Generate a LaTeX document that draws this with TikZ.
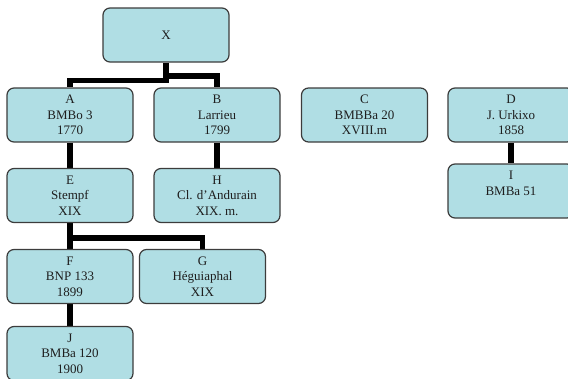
\documentclass[tikz,border=0pt]{standalone}
\usepackage{fontspec}
\setmainfont{Liberation Serif}
\usetikzlibrary{backgrounds}
\definecolor{boxfill}{RGB}{176,222,228}
\definecolor{boxline}{RGB}{60,60,60}
\definecolor{txt}{RGB}{30,30,30}
\begin{document}
\begin{tikzpicture}[x=1pt,y=-1pt,
  box/.style={draw=boxline,fill=boxfill,line width=1.2pt,rounded corners=7pt,
    minimum width=126pt,minimum height=54pt,inner sep=0pt,text=txt,
    font=\fontsize{13}{15.5}\selectfont,align=center,anchor=center},
  conn/.style={line width=5.5pt,draw=black}]
\useasboundingbox (0,0) rectangle (568,378);
\coordinate (jl) at (0,80.5);
\coordinate (jr) at (0,76);
\coordinate (je) at (0,238);
\node[box] (X) at (166,35) {X};
\node[box] (A) at (70,115) {A\\BMBo 3\\1770};
\node[box] (B) at (217,115) {B\\Larrieu\\1799};
\node[box] (C) at (364.5,115) {C\\BMBBa 20\\XVIII.m};
\node[box] (D) at (511,115) {D\\J. Urkixo\\1858};
\node[box] (E) at (70,195.5) {E\\Stempf\\XIX};
\node[box] (H) at (217,195.5) {H\\Cl. d’Andurain\\XIX. m.};
\node[box] (I) at (511,191) {I\\BMBa 51\\\mbox{}};
\node[box] (F) at (70,276.5) {F\\BNP 133\\1899};
\node[box] (G) at (202.5,276.5) {G\\Héguiaphal\\XIX};
\node[box] (J) at (70,353.5) {J\\BMBa 120\\1900};
\begin{scope}[on background layer]
\draw[conn] (X.south) -- (X.south |- jl) -| (A.north);
\draw[conn] (X.south |- jr) -| (B.north);
\draw[conn] (A.south) -- (E.north);
\draw[conn] (B.south) -- (H.north);
\draw[conn] (D.south) -- (I.north);
\draw[conn] (E.south) -- (F.north);
\draw[conn] (E.south |- je) -| (G.north);
\draw[conn] (F.south) -- (J.north);
\end{scope}
\end{tikzpicture}
\end{document}
